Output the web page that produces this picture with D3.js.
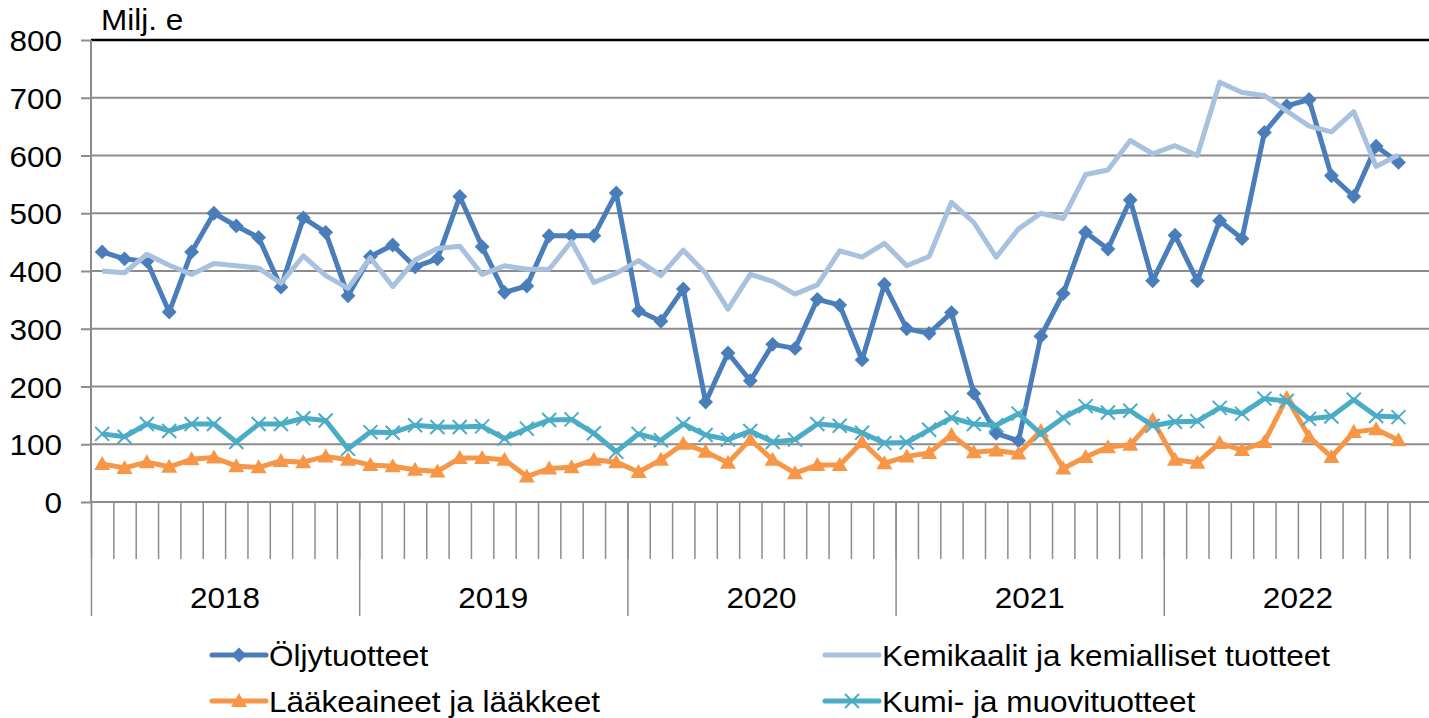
<!DOCTYPE html>
<html>
<head>
<meta charset="utf-8">
<script src="https://cdn.jsdelivr.net/npm/d3@7"></script>
<style>
  body { margin: 0; background: #fff; }
  text { font-family: "Liberation Sans", Arial, sans-serif; fill: #000; }
</style>
</head>
<body>
<div id="chart"></div>
<script>

// kuukausittaiset arvot, milj. e (tammikuu 2018 - marraskuu 2022)
var years = ["2018", "2019", "2020", "2021", "2022"];
var yTicks = [0, 100, 200, 300, 400, 500, 600, 700, 800];

var oljy = [
    433, 421, 417, 329, 433, 500, 478, 458, 372, 492, 467, 357,
    425, 445, 407, 421, 529, 442, 363, 374, 461, 461, 461, 535,
    331, 313, 369, 173, 258, 210, 273, 266, 351, 341, 246, 377,
    300, 292, 328, 188, 119, 106, 287, 361, 467, 438, 523, 383,
    462, 383, 487, 456, 640, 686, 697, 565, 529, 616, 588
];
var kemikaalit = [
    400, 397, 429, 410, 394, 413, 409, 405, 379, 426, 392, 370,
    423, 373, 419, 439, 443, 394, 409, 403, 403, 451, 380, 396,
    418, 392, 436, 396, 334, 394, 382, 360, 376, 435, 424, 448,
    409, 425, 519, 484, 424, 473, 500, 491, 567, 575, 626, 603,
    617, 600, 727, 709, 704, 677, 651, 641, 676, 581, 601
];
var laakkeet = [
    66, 59, 69, 61, 74, 77, 62, 60, 71, 69, 79, 73,
    64, 62, 56, 53, 76, 76, 73, 44, 58, 60, 73, 69,
    52, 73, 101, 87, 68, 108, 73, 50, 64, 64, 104, 67,
    79, 85, 116, 86, 89, 84, 123, 58, 78, 95, 99, 142,
    73, 68, 102, 90, 104, 180, 113, 78, 121, 126, 107
];
var kumi = [
    118, 113, 135, 123, 135, 135, 104, 135, 135, 145, 141, 92,
    121, 120, 133, 130, 130, 131, 110, 127, 142, 143, 119, 87,
    118, 107, 135, 116, 108, 123, 104, 108, 135, 132, 120, 102,
    103, 125, 146, 135, 133, 153, 118, 146, 166, 155, 158, 132,
    139, 140, 163, 153, 179, 175, 144, 148, 177, 149, 147
];

var series = [
    {name: "Öljytuotteet", values: oljy, color: "#4a7ebb", marker: "diamond"},
    {name: "Kemikaalit ja kemialliset tuotteet", values: kemikaalit, color: "#a7c1df", marker: "none"},
    {name: "Lääkeaineet ja lääkkeet", values: laakkeet, color: "#f79646", marker: "triangle"},
    {name: "Kumi- ja muovituotteet", values: kumi, color: "#4bacc6", marker: "cross"}
];

var width = 1429, height = 718;
var nMonths = years.length * 12;
var fontSize = "30px";
var stretch = 1.05; // alkuperäisen tekstit ovat hieman leveämpiä

var svg = d3.select("#chart")
    .append("svg")
    .attr("width", width)
    .attr("height", height);

var xScale = d3.scaleLinear()
    .domain([0, nMonths])
    .range([91, 1432]);

var yScale = d3.scaleLinear()
    .domain([0, 800])
    .range([502, 40]);

function addText(g, x, y, txt, anchor) {
    return g.append("text")
        .attr("transform", "translate(" + x + "," + y + ") scale(" + stretch + ",1)")
        .attr("text-anchor", anchor || "start")
        .style("font-size", fontSize)
        .text(txt);
}

// vaakaviivat
svg.append("g")
    .selectAll("line")
    .data(yTicks.filter(function(d){ return d > 0 && d < 800; }))
    .enter()
    .append("line")
    .attr("x1", xScale(0))
    .attr("x2", width)
    .attr("y1", function(d){ return yScale(d); })
    .attr("y2", function(d){ return yScale(d); })
    .style("stroke", "#8c8c8c")
    .style("stroke-width", "2px");

svg.append("line")
    .attr("x1", xScale(0))
    .attr("x2", width)
    .attr("y1", yScale(800))
    .attr("y2", yScale(800))
    .style("stroke", "#000")
    .style("stroke-width", "2.5px");

// y-akseli
var yAxis = svg.append("g")
    .attr("transform", "translate(" + xScale(0) + ",0)")
    .call(d3.axisLeft(yScale).tickValues(yTicks).tickSize(10).tickFormat(""));

yAxis.select(".domain").remove();
yAxis.selectAll(".tick line").style("stroke", "#8c8c8c").style("stroke-width", "2px");

var yLabels = svg.append("g");
yTicks.forEach(function(t){
    addText(yLabels, 62, yScale(t) + 11, t, "end");
});

svg.append("line")
    .attr("x1", xScale(0)).attr("x2", xScale(0))
    .attr("y1", yScale(800)).attr("y2", yScale(0))
    .style("stroke", "#8c8c8c")
    .style("stroke-width", "2px");

addText(svg, 101, 30, "Milj. e");

// x-akseli: kuukausien ja vuosien rajat
var monthAxis = svg.append("g")
    .attr("transform", "translate(0," + yScale(0) + ")")
    .call(d3.axisBottom(xScale)
        .tickValues(d3.range(0, nMonths + 1))
        .tickSize(57)
        .tickFormat(""));

monthAxis.select(".domain").remove();
monthAxis.selectAll(".tick line").style("stroke", "#8c8c8c").style("stroke-width", "1.5px");

var yearAxis = svg.append("g")
    .attr("transform", "translate(0," + yScale(0) + ")")
    .call(d3.axisBottom(xScale)
        .tickValues(d3.range(0, nMonths + 1, 12))
        .tickSize(114)
        .tickFormat(""));

yearAxis.select(".domain").remove();
yearAxis.selectAll(".tick line").style("stroke", "#8c8c8c").style("stroke-width", "1.5px");

svg.append("line")
    .attr("x1", xScale(0))
    .attr("x2", width)
    .attr("y1", yScale(0))
    .attr("y2", yScale(0))
    .style("stroke", "#8c8c8c")
    .style("stroke-width", "2px");

var yearLabels = svg.append("g");
years.forEach(function(d, i){
    addText(yearLabels, xScale(i * 12 + 6), 608, d, "middle");
});

// viivat
var line = d3.line()
    .x(function(d, i){ return xScale(i + 0.5); })
    .y(function(d){ return yScale(d); });

function drawMarker(g, type, color, x, y) {
    if (type === "diamond") {
        g.append("path")
            .attr("d", d3.symbol().type(d3.symbolSquare).size(110)())
            .attr("transform", "translate(" + x + "," + y + ") rotate(45)")
            .style("fill", color);
    } else if (type === "triangle") {
        g.append("path")
            .attr("d", "M0,-8L8,6L-8,6Z")
            .attr("transform", "translate(" + x + "," + y + ")")
            .style("fill", color);
    } else if (type === "cross") {
        g.append("path")
            .attr("d", "M-7,-7L7,7M-7,7L7,-7")
            .attr("transform", "translate(" + x + "," + y + ")")
            .style("stroke", color)
            .style("stroke-width", "2px")
            .style("fill", "none");
    }
}

series.forEach(function(s){
    var g = svg.append("g");
    g.append("path")
        .datum(s.values)
        .attr("d", line)
        .style("fill", "none")
        .style("stroke", s.color)
        .style("stroke-width", "5px")
        .style("stroke-linejoin", "round");
    s.values.forEach(function(v, i){
        drawMarker(g, s.marker, s.color, xScale(i + 0.5), yScale(v));
    });
});

// selite
var legendPos = [
    {x: 212, y: 655}, {x: 825, y: 655},
    {x: 212, y: 701}, {x: 825, y: 701}
];

series.forEach(function(s, i){
    var p = legendPos[i];
    var g = svg.append("g");
    g.append("line")
        .attr("x1", p.x).attr("x2", p.x + 54)
        .attr("y1", p.y).attr("y2", p.y)
        .style("stroke", s.color)
        .style("stroke-width", "5px")
        .style("stroke-linecap", "round");
    drawMarker(g, s.marker, s.color, p.x + 27, p.y);
    addText(g, p.x + 57, p.y + 11, s.name);
});

</script>
</body>
</html>
